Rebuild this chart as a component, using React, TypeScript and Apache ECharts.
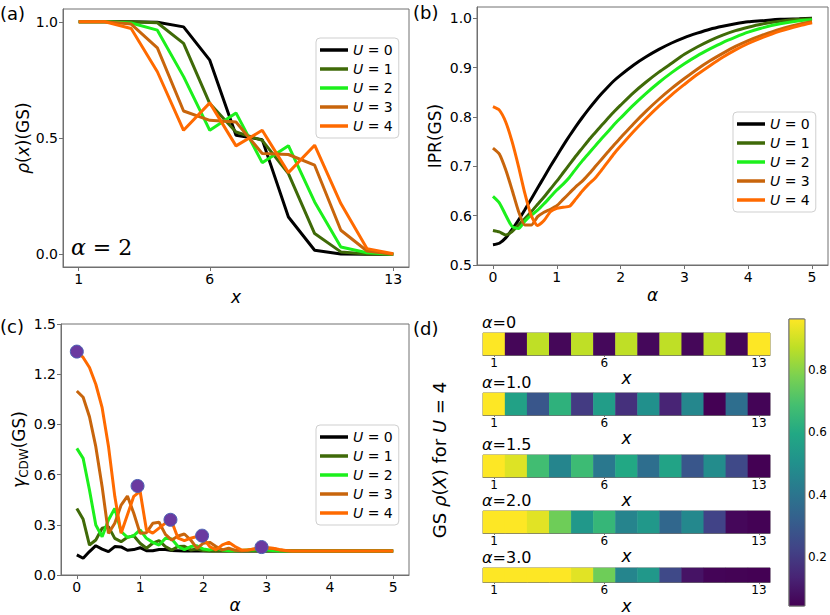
import React, { useEffect, useRef } from 'react';
import * as echarts from 'echarts';

// ---------- panel (a): rho(x) at alpha = 2 ----------
const sites = [1, 2, 3, 4, 5, 6, 7, 8, 9, 10, 11, 12, 13];
const rhoU0 = [1, 1, 1, 0.998, 0.978, 0.835, 0.512, 0.493, 0.16, 0.017, 0.001, 0, 0];
const rhoU1 = [1, 1, 1, 0.996, 0.907, 0.648, 0.526, 0.49, 0.347, 0.089, 0.01, 0.001, 0];
const rhoU2 = [1, 1, 0.995, 0.964, 0.764, 0.533, 0.608, 0.394, 0.467, 0.225, 0.031, 0.006, 0];
const rhoU3 = [1, 1, 0.99, 0.888, 0.616, 0.576, 0.569, 0.433, 0.429, 0.383, 0.103, 0.014, 0];
const rhoU4 = [1, 1, 0.971, 0.785, 0.533, 0.651, 0.466, 0.533, 0.351, 0.469, 0.218, 0.024, 0.002];
const siteTicks = [1, 6, 13];
const rhoTicks = [0, 0.5, 1.0];

// ---------- panel (b): IPR vs alpha ----------
const alphaB = [0, 0.1, 0.2, 0.3, 0.4, 0.5, 0.6, 0.7, 0.8, 0.9, 1.0, 1.1, 1.2, 1.3, 1.4, 1.5, 1.6, 1.7, 1.8, 1.9, 2.0, 2.2, 2.4, 2.6, 2.8, 3.0, 3.2, 3.4, 3.6, 3.8, 4.0, 4.2, 4.5, 4.8, 5.0];
const iprU0 = [0.541, 0.544, 0.555, 0.572, 0.591, 0.612, 0.634, 0.656, 0.678, 0.7, 0.721, 0.742, 0.762, 0.781, 0.799, 0.816, 0.832, 0.847, 0.861, 0.874, 0.885, 0.905, 0.922, 0.937, 0.95, 0.961, 0.97, 0.978, 0.984, 0.989, 0.993, 0.995, 0.998, 0.999, 1.0];
const iprU1 = [0.57, 0.567, 0.561, 0.568, 0.581, 0.594, 0.608, 0.623, 0.638, 0.654, 0.67, 0.687, 0.704, 0.721, 0.737, 0.753, 0.768, 0.783, 0.797, 0.811, 0.824, 0.849, 0.871, 0.891, 0.909, 0.927, 0.942, 0.955, 0.966, 0.975, 0.982, 0.988, 0.994, 0.998, 0.999];
const iprU2 = [0.639, 0.626, 0.601, 0.578, 0.574, 0.589, 0.601, 0.611, 0.624, 0.638, 0.652, 0.664, 0.678, 0.695, 0.711, 0.726, 0.741, 0.756, 0.77, 0.785, 0.798, 0.824, 0.848, 0.87, 0.89, 0.908, 0.924, 0.938, 0.951, 0.962, 0.972, 0.98, 0.989, 0.995, 0.997];
const iprU3 = [0.737, 0.725, 0.693, 0.652, 0.609, 0.581, 0.581, 0.598, 0.607, 0.613, 0.62, 0.633, 0.646, 0.659, 0.67, 0.684, 0.699, 0.714, 0.729, 0.744, 0.758, 0.786, 0.812, 0.836, 0.858, 0.878, 0.897, 0.914, 0.929, 0.943, 0.955, 0.965, 0.978, 0.988, 0.993];
const iprU4 = [0.821, 0.814, 0.79, 0.75, 0.7, 0.645, 0.6, 0.58, 0.59, 0.608, 0.615, 0.617, 0.619, 0.634, 0.65, 0.664, 0.676, 0.692, 0.709, 0.726, 0.741, 0.77, 0.797, 0.822, 0.845, 0.866, 0.886, 0.904, 0.921, 0.936, 0.949, 0.96, 0.974, 0.985, 0.991];
const alphaTicks = [0, 1, 2, 3, 4, 5];
const iprTicks = [0.5, 0.6, 0.7, 0.8, 0.9, 1.0];

// ---------- panel (c): gamma_CDW vs alpha ----------
const alphaC = [0, 0.1, 0.2, 0.3, 0.4, 0.5, 0.6, 0.7, 0.8, 0.9, 1.0, 1.1, 1.2, 1.3, 1.4, 1.5, 1.6, 1.7, 1.8, 1.9, 2.0, 2.1, 2.2, 2.3, 2.4, 2.5, 2.6, 2.7, 2.8, 2.9, 3.0, 3.1, 3.2, 3.3, 3.4, 3.5, 3.6, 3.7, 3.8, 3.9, 4.0, 4.1, 4.2, 4.3, 4.4, 4.5, 4.6, 4.7, 4.8, 4.9, 5.0];
const gammaU0 = [0.12, 0.1, 0.14, 0.175, 0.155, 0.14, 0.17, 0.168, 0.148, 0.152, 0.163, 0.145, 0.145, 0.152, 0.152, 0.146, 0.145, 0.144, 0.144, 0.143, 0.143, 0.143, 0.143, 0.143, 0.143, 0.143, 0.143, 0.143, 0.143, 0.143, 0.143, 0.143, 0.143, 0.143, 0.143, 0.143, 0.143, 0.143, 0.143, 0.143, 0.143, 0.143, 0.143, 0.143, 0.143, 0.143, 0.143, 0.143, 0.143, 0.143, 0.143];
const gammaU1 = [0.398, 0.333, 0.179, 0.209, 0.279, 0.289, 0.219, 0.199, 0.225, 0.235, 0.19, 0.16, 0.19, 0.205, 0.17, 0.149, 0.17, 0.172, 0.15, 0.155, 0.146, 0.144, 0.143, 0.143, 0.143, 0.143, 0.143, 0.143, 0.143, 0.143, 0.143, 0.143, 0.143, 0.143, 0.143, 0.143, 0.143, 0.143, 0.143, 0.143, 0.143, 0.143, 0.143, 0.143, 0.143, 0.143, 0.143, 0.143, 0.143, 0.143, 0.143];
const gammaU2 = [0.757, 0.697, 0.508, 0.299, 0.229, 0.329, 0.398, 0.26, 0.225, 0.235, 0.27, 0.219, 0.195, 0.179, 0.219, 0.215, 0.17, 0.152, 0.17, 0.175, 0.155, 0.15, 0.16, 0.15, 0.145, 0.145, 0.147, 0.15, 0.15, 0.152, 0.15, 0.146, 0.144, 0.143, 0.143, 0.143, 0.143, 0.143, 0.143, 0.143, 0.143, 0.143, 0.143, 0.143, 0.143, 0.143, 0.143, 0.143, 0.143, 0.143, 0.143];
const gammaU3 = [1.1, 1.062, 0.946, 0.767, 0.528, 0.249, 0.309, 0.418, 0.472, 0.369, 0.249, 0.253, 0.309, 0.315, 0.243, 0.209, 0.233, 0.245, 0.209, 0.159, 0.19, 0.195, 0.17, 0.15, 0.16, 0.148, 0.145, 0.148, 0.155, 0.16, 0.162, 0.158, 0.15, 0.145, 0.143, 0.143, 0.143, 0.143, 0.143, 0.143, 0.143, 0.143, 0.143, 0.143, 0.143, 0.143, 0.143, 0.143, 0.143, 0.143, 0.143];
const gammaU4 = [1.335, 1.3, 1.24, 1.14, 1.0, 0.77, 0.47, 0.249, 0.36, 0.47, 0.5, 0.27, 0.25, 0.28, 0.31, 0.32, 0.22, 0.205, 0.22, 0.23, 0.22, 0.17, 0.15, 0.18, 0.195, 0.17, 0.15, 0.15, 0.155, 0.163, 0.163, 0.16, 0.152, 0.146, 0.143, 0.143, 0.143, 0.143, 0.143, 0.143, 0.143, 0.143, 0.143, 0.143, 0.143, 0.143, 0.143, 0.143, 0.143, 0.143, 0.143];
const peakAlpha = [0, 0.96, 1.48, 1.98, 2.92];
const peakGamma = [1.335, 0.532, 0.33, 0.235, 0.167];

// ---------- panel (d): density strips for U = 4 ----------
const stripAlphas = ['0', '1.0', '1.5', '2.0', '3.0'];
const heatA0 = [0.964, 0.055, 0.875, 0.058, 0.875, 0.062, 0.875, 0.062, 0.875, 0.058, 0.875, 0.055, 0.964];
const heatA1 = [0.964, 0.568, 0.29, 0.632, 0.2, 0.55, 0.17, 0.5, 0.135, 0.465, 0.043, 0.375, 0.05];
const heatA15 = [0.964, 0.918, 0.68, 0.458, 0.67, 0.41, 0.596, 0.375, 0.577, 0.29, 0.485, 0.245, 0.043];
const heatA2 = [0.964, 0.964, 0.923, 0.76, 0.53, 0.65, 0.455, 0.53, 0.35, 0.47, 0.225, 0.06, 0.045];
const heatA3 = [0.964, 0.964, 0.964, 0.964, 0.923, 0.76, 0.458, 0.53, 0.245, 0.09, 0.05, 0.047, 0.043];
const colorbarTicks = [0.2, 0.4, 0.6, 0.8];
const colorMin = 0.043;
const colorMax = 0.964;

const uNames = ['U0', 'U1', 'U2', 'U3', 'U4'];
const uColors = ['#000000', '#3f6a08', '#1cf01c', '#c8650c', '#ff6a00'];
const viridis = ['#440154', '#482475', '#414487', '#355f8d', '#2a788e', '#21918c', '#22a884', '#44bf70', '#7ad151', '#bddf26', '#fde725'];

const FONT = 'DejaVu Sans';
const AX = '#707070';

function baseAxis(extra: any) {
  return {
    axisLine: { show: true, onZero: false, lineStyle: { color: AX, width: 1 } },
    axisTick: { show: true, length: 4, lineStyle: { color: AX } },
    axisLabel: { color: '#000', fontSize: 14, fontFamily: FONT, margin: 5 },
    splitLine: { show: false },
    ...extra,
  };
}

function buildOption() {
  const rhoSets = [rhoU0, rhoU1, rhoU2, rhoU3, rhoU4];
  const iprSets = [iprU0, iprU1, iprU2, iprU3, iprU4];
  const gammaSets = [gammaU0, gammaU1, gammaU2, gammaU3, gammaU4];
  const heatSets = [heatA0, heatA1, heatA15, heatA2, heatA3];
  const stripTops = [333, 393, 455, 511, 568];

  const grids: any[] = [
    { left: 63, top: 9, width: 346, height: 258 },
    { left: 477, top: 7, width: 351, height: 258 },
    { left: 61, top: 324, width: 348, height: 251 },
    ...stripTops.map((t) => ({ left: 483, top: t, width: 287, height: 22 })),
    { left: 789, top: 319, width: 16, height: 287 },
  ].map((g) => ({ ...g, show: true, borderColor: AX, borderWidth: 1, backgroundColor: 'transparent' }));

  const nameStyle = (rich?: any) => ({
    fontSize: 17,
    fontFamily: FONT,
    color: '#000',
    rich,
  });
  const italic = { fontStyle: 'italic', fontSize: 17, fontFamily: FONT, color: '#000' };

  const xAxes: any[] = [
    baseAxis({
      type: 'value', gridIndex: 0, min: 0.4, max: 13.6,
      axisLabel: { color: '#000', fontSize: 14, fontFamily: FONT, margin: 5, customValues: siteTicks },
      axisTick: { show: true, length: 4, lineStyle: { color: AX }, customValues: siteTicks },
      name: 'x', nameLocation: 'middle', nameGap: 21,
      nameTextStyle: { ...nameStyle(), fontStyle: 'italic' },
    }),
    baseAxis({
      type: 'value', gridIndex: 1, min: -0.25, max: 5.25,
      axisLabel: { color: '#000', fontSize: 14, fontFamily: FONT, margin: 5, customValues: alphaTicks },
      axisTick: { show: true, length: 4, lineStyle: { color: AX }, customValues: alphaTicks },
      name: 'α', nameLocation: 'middle', nameGap: 21,
      nameTextStyle: { ...nameStyle(), fontStyle: 'italic' },
    }),
    baseAxis({
      type: 'value', gridIndex: 2, min: -0.25, max: 5.25,
      axisLabel: { color: '#000', fontSize: 14, fontFamily: FONT, margin: 5, customValues: alphaTicks },
      axisTick: { show: true, length: 4, lineStyle: { color: AX }, customValues: alphaTicks },
      name: 'α', nameLocation: 'middle', nameGap: 21,
      nameTextStyle: { ...nameStyle(), fontStyle: 'italic' },
    }),
    ...stripTops.map((_, k) => ({
      type: 'category', gridIndex: 3 + k, data: sites.map(String),
      axisLine: { show: true, lineStyle: { color: AX } },
      axisTick: {
        show: true, length: 2, alignWithLabel: true, lineStyle: { color: AX },
        interval: (i: number) => siteTicks.includes(sites[i]),
      },
      axisLabel: {
        color: '#000', fontSize: 12, fontFamily: FONT, margin: 2, lineHeight: 12,
        interval: (i: number) => siteTicks.includes(sites[i]),
      },
      splitLine: { show: false },
      name: 'x', nameLocation: 'middle', nameGap: 8,
      nameTextStyle: { ...nameStyle(), fontStyle: 'italic' },
    })),
    { type: 'value', gridIndex: 8, show: false, min: 0, max: 1 },
  ];

  const yAxes: any[] = [
    baseAxis({
      type: 'value', gridIndex: 0, min: -0.055, max: 1.055,
      axisLabel: { color: '#000', fontSize: 14, fontFamily: FONT, margin: 5, customValues: rhoTicks, formatter: (v: number) => v.toFixed(1) },
      axisTick: { show: true, length: 4, lineStyle: { color: AX }, customValues: rhoTicks },
      name: '{i|ρ}({i|x})(GS)', nameLocation: 'middle', nameGap: 27,
      nameTextStyle: nameStyle({ i: italic }),
    }),
    baseAxis({
      type: 'value', gridIndex: 1, min: 0.5, max: 1.023,
      axisLabel: { color: '#000', fontSize: 14, fontFamily: FONT, margin: 5, customValues: iprTicks, formatter: (v: number) => v.toFixed(1) },
      axisTick: { show: true, length: 4, lineStyle: { color: AX }, customValues: iprTicks },
      name: 'IPR(GS)', nameLocation: 'middle', nameGap: 34,
      nameTextStyle: nameStyle(),
    }),
    baseAxis({
      type: 'value', gridIndex: 2, min: 0, max: 1.5, interval: 0.3,
      axisLabel: { color: '#000', fontSize: 14, fontFamily: FONT, margin: 5, formatter: (v: number) => v.toFixed(1) },
      name: '{g|γ}{s|CDW}(GS)', nameLocation: 'middle', nameGap: 27,
      nameTextStyle: nameStyle({
        g: { ...italic, lineHeight: 22, verticalAlign: 'middle' },
        s: { fontSize: 12, fontFamily: FONT, color: '#000', lineHeight: 22, verticalAlign: 'bottom' },
      }),
    }),
    ...stripTops.map((_, k) => ({
      type: 'category', gridIndex: 3 + k, data: [''], show: false,
    })),
    {
      type: 'value', gridIndex: 8, min: colorMin, max: colorMax, position: 'right',
      axisLine: { show: false },
      axisTick: { show: true, length: 4, lineStyle: { color: '#000' }, customValues: colorbarTicks },
      axisLabel: { color: '#000', fontSize: 12, fontFamily: FONT, margin: 4, customValues: colorbarTicks, formatter: (v: number) => v.toFixed(1) },
      splitLine: { show: false },
    },
  ];

  const series: any[] = [];
  rhoSets.forEach((arr, u) => {
    series.push({
      name: uNames[u], type: 'line', xAxisIndex: 0, yAxisIndex: 0,
      data: sites.map((x, i) => [x, arr[i]]), symbol: 'none',
      lineStyle: { width: 3, color: uColors[u] }, itemStyle: { color: uColors[u] }, z: 2 + u,
    });
  });
  iprSets.forEach((arr, u) => {
    series.push({
      name: uNames[u], type: 'line', xAxisIndex: 1, yAxisIndex: 1,
      data: alphaB.map((a, i) => [a, arr[i]]), symbol: 'none', smooth: 0.2,
      lineStyle: { width: 3, color: uColors[u] }, itemStyle: { color: uColors[u] }, z: 2 + u,
    });
  });
  gammaSets.forEach((arr, u) => {
    series.push({
      name: uNames[u], type: 'line', xAxisIndex: 2, yAxisIndex: 2,
      data: alphaC.map((a, i) => [a, arr[i]]), symbol: 'none',
      lineStyle: { width: 3, color: uColors[u] }, itemStyle: { color: uColors[u] }, z: 2 + u,
    });
  });
  series.push({
    name: 'peaks', type: 'scatter', xAxisIndex: 2, yAxisIndex: 2,
    data: peakAlpha.map((a, i) => [a, peakGamma[i]]), symbolSize: 13,
    itemStyle: { color: '#6a3aa0', borderColor: '#4c62b4', borderWidth: 1, opacity: 1 }, z: 10,
  });
  const heatStart = series.length;
  heatSets.forEach((arr, k) => {
    series.push({
      name: 'strip' + k, type: 'heatmap', xAxisIndex: 3 + k, yAxisIndex: 3 + k,
      data: sites.map((_, i) => [i, 0, arr[i]]),
    });
  });

  const legendBase = {
    data: uNames, orient: 'vertical', itemWidth: 28, itemHeight: 3.5, itemGap: 5,
    icon: 'rect', padding: [5, 6, 5, 4], borderColor: '#cfcfcf', borderWidth: 1, borderRadius: 4,
    backgroundColor: 'rgba(255,255,255,0.85)', selectedMode: false,
    formatter: (n: string) => `{i|U} = ${n.slice(1)}`,
    textStyle: {
      fontSize: 14, fontFamily: FONT, color: '#000', lineHeight: 14,
      rich: { i: { fontStyle: 'italic', fontSize: 14, fontFamily: FONT, color: '#000', lineHeight: 14 } },
    },
  };

  const graphics: any[] = [
    { type: 'text', x: 0, y: 13, style: { text: '(a)', fontSize: 18, fontFamily: FONT, fill: '#000', verticalAlign: 'middle' } },
    { type: 'text', x: 413, y: 12, style: { text: '(b)', fontSize: 18, fontFamily: FONT, fill: '#000', verticalAlign: 'middle' } },
    { type: 'text', x: 0, y: 326, style: { text: '(c)', fontSize: 18, fontFamily: FONT, fill: '#000', verticalAlign: 'middle' } },
    { type: 'text', x: 413, y: 328, style: { text: '(d)', fontSize: 18, fontFamily: FONT, fill: '#000', verticalAlign: 'middle' } },
    {
      type: 'text', x: 71, y: 247,
      style: {
        text: '{i|α} = 2', fontSize: 22, fontFamily: 'DejaVu Serif', fill: '#000', verticalAlign: 'middle',
        rich: { i: { fontStyle: 'italic', fontSize: 22, fontFamily: 'DejaVu Serif', fill: '#000' } },
      },
    },
    {
      type: 'text', x: 439, y: 460, rotation: Math.PI / 2,
      style: {
        text: 'GS {i|ρ}({i|X}) for {i|U} = 4', fontSize: 18, fontFamily: FONT, fill: '#000',
        align: 'center', verticalAlign: 'middle',
        rich: { i: { fontStyle: 'italic', fontSize: 18, fontFamily: FONT, fill: '#000' } },
      },
    },
    ...stripTops.map((t, k) => ({
      type: 'text', x: 482, y: t - 11,
      style: {
        text: `{i|α}=${stripAlphas[k]}`, fontSize: 16, fontFamily: FONT, fill: '#000', verticalAlign: 'middle',
        lineHeight: 16,
        rich: { i: { fontStyle: 'italic', fontSize: 16, fontFamily: FONT, fill: '#000', lineHeight: 16 } },
      },
    })),
    {
      type: 'rect', shape: { x: 789, y: 319, width: 16, height: 287 }, z: 5,
      style: {
        fill: new echarts.graphic.LinearGradient(0, 0, 0, 1,
          viridis.slice().reverse().map((c, i) => ({ offset: i / (viridis.length - 1), color: c }))),
        stroke: AX, lineWidth: 1,
      },
    },
  ];

  return {
    animation: false,
    backgroundColor: '#fff',
    textStyle: { fontFamily: FONT },
    grid: grids,
    xAxis: xAxes,
    yAxis: yAxes,
    legend: [
      { ...legendBase, left: 316, top: 38 },
      { ...legendBase, left: 733, top: 112 },
      { ...legendBase, left: 316, top: 425 },
    ],
    visualMap: {
      type: 'continuous', show: false, min: colorMin, max: colorMax, dimension: 2,
      seriesIndex: heatSets.map((_, k) => heatStart + k),
      inRange: { color: viridis },
    },
    graphic: graphics,
    series,
  };
}

export default function App() {
  const ref = useRef<HTMLDivElement>(null);
  useEffect(() => {
    if (!ref.current) return;
    const chart = echarts.init(ref.current, null, { renderer: 'svg' });
    chart.setOption(buildOption() as any);
    return () => chart.dispose();
  }, []);
  return <div ref={ref} style={{ position: 'fixed', left: 0, top: 0, width: 830, height: 615 }} />;
}
